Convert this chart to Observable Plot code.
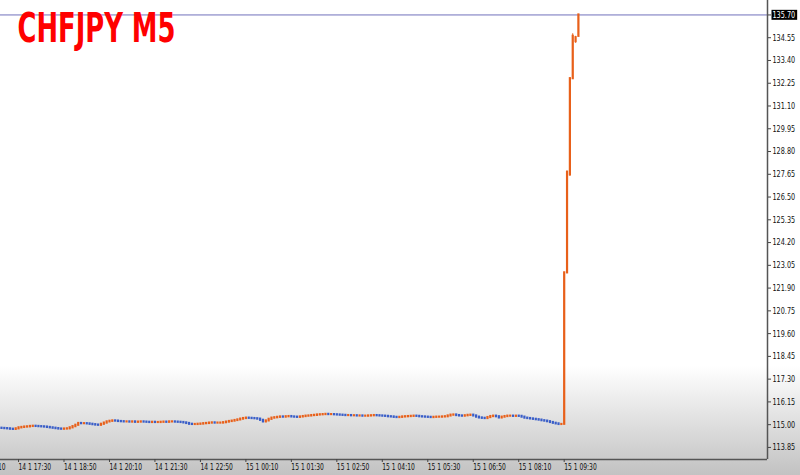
<!DOCTYPE html>
<html>
<head>
<meta charset="utf-8">
<script src="https://cdn.jsdelivr.net/npm/d3@7"></script>
<script src="https://cdn.jsdelivr.net/npm/@observablehq/plot@0.6"></script>
<style>
  html, body { margin: 0; padding: 0; }
  body {
    width: 800px; height: 475px; overflow: hidden;
    background: linear-gradient(to bottom, #ffffff 0%, #ffffff 77%, #c2c2c2 100%);
  }
  #chart svg { display: block; }
</style>
</head>
<body>
<div id="chart"></div>
<script>
// ---- data ----
const title = "CHFJPY M5";
const firstBarTime = "2015-01-14T17:00:00Z";   // first visible M5 bar
const barMinutes = 5;
const firstOpen = 114.82;
// closes of the M5 bars before the spike (14 1 17:00 .. 15 1 09:25)
const closes = [
  114.81,114.80,114.79,114.77,114.76,114.79,114.84,114.86,114.88,114.89,
  114.91,114.92,114.91,114.90,114.89,114.88,114.86,114.84,114.82,114.80,
  114.78,114.77,114.78,114.79,114.84,114.90,114.97,115.06,115.05,115.05,
  115.04,115.02,115.00,114.98,114.97,115.02,115.08,115.14,115.17,115.19,
  115.18,115.16,115.15,115.14,115.14,115.13,115.14,115.12,115.13,115.14,
  115.13,115.12,115.11,115.12,115.11,115.11,115.12,115.13,115.12,115.14,
  115.14,115.13,115.12,115.11,115.09,115.06,115.02,115.01,115.01,115.02,
  115.03,115.05,115.06,115.08,115.09,115.08,115.08,115.08,115.10,115.13,
  115.16,115.18,115.21,115.24,115.28,115.31,115.33,115.32,115.31,115.30,
  115.28,115.22,115.14,115.19,115.27,115.33,115.35,115.37,115.39,115.38,
  115.40,115.41,115.39,115.38,115.37,115.39,115.41,115.43,115.44,115.46,
  115.47,115.49,115.50,115.51,115.52,115.51,115.51,115.50,115.49,115.48,
  115.47,115.46,115.46,115.45,115.45,115.44,115.44,115.43,115.43,115.44,
  115.45,115.46,115.45,115.44,115.43,115.42,115.40,115.39,115.37,115.36,
  115.37,115.39,115.40,115.41,115.42,115.43,115.42,115.40,115.39,115.38,
  115.37,115.36,115.37,115.38,115.38,115.39,115.40,115.44,115.48,115.49,
  115.46,115.44,115.43,115.45,115.47,115.48,115.44,115.38,115.34,115.32,
  115.31,115.36,115.41,115.43,115.40,115.34,115.38,115.41,115.43,115.43,
  115.42,115.43,115.42,115.38,115.33,115.31,115.29,115.27,115.25,115.23,
  115.20,115.18,115.15,115.11,115.07,115.04,115.01,115.01
];
// the spike bars from 15 1 09:30
const spikeOpen  = [115.02, 122.67, 127.62, 132.48, 134.35, 134.62];
const spikeHigh  = [122.67, 127.76, 132.48, 134.75, 134.62, 135.70];
const spikeLow   = [115.01, 122.67, 127.55, 132.48, 134.27, 134.62];
const spikeClose = [122.67, 127.76, 132.48, 134.62, 134.55, 135.70];
const lastPrice = 135.70;
const yTicks = [113.85,115.00,116.15,117.30,118.45,119.60,120.75,121.90,123.05,124.20,
                125.35,126.50,127.65,128.80,129.95,131.10,132.25,133.40,134.55,135.70];
const xTicks = ["2015-01-14T16:10Z","2015-01-14T17:30Z","2015-01-14T18:50Z","2015-01-14T20:10Z",
                "2015-01-14T21:30Z","2015-01-14T22:50Z","2015-01-15T00:10Z","2015-01-15T01:30Z",
                "2015-01-15T02:50Z","2015-01-15T04:10Z","2015-01-15T05:30Z","2015-01-15T06:50Z",
                "2015-01-15T08:10Z","2015-01-15T09:30Z"];
const xDomain = ["2015-01-14T16:58:17Z", "2015-01-15T15:27:40Z"];
const yDomain = [113.24, 136.43];

// ---- build candle table ----
const t0 = new Date(firstBarTime).getTime();
const bars = [];
closes.forEach((c, i) => {
  const o = i === 0 ? firstOpen : closes[i - 1];
  bars.push({t: new Date(t0 + i * barMinutes * 60000), o, h: Math.max(o, c), l: Math.min(o, c), c});
});
spikeClose.forEach((c, j) => {
  const i = closes.length + j;
  bars.push({t: new Date(t0 + i * barMinutes * 60000), o: spikeOpen[j], h: spikeHigh[j], l: spikeLow[j], c});
});
const UP = "#e8601a", DOWN = "#3a5ec8";
const col = d => d.c >= d.o ? UP : DOWN;
const FONT = "'Liberation Sans Narrow', 'Arial Narrow', 'DejaVu Sans Condensed', sans-serif";
const fmtX = d3.utcFormat("%-d %-m %H:%M");

const chart = Plot.plot({
  width: 800, height: 475,
  marginLeft: 0, marginRight: 33, marginTop: 0, marginBottom: 16,
  style: {background: "transparent", fontFamily: FONT},
  x: {type: "utc", domain: xDomain.map(s => new Date(s)), axis: null},
  y: {domain: yDomain, axis: null},
  marks: [
    Plot.ruleY([lastPrice], {stroke: "#7070bb", strokeWidth: 1}),
    Plot.ruleX(bars, {x: "t", y1: "l", y2: "h", stroke: col, strokeWidth: 1}),
    Plot.ruleX(bars, {x: "t", y1: "o", y2: "c", stroke: col, strokeWidth: 2.2, strokeLinecap: "square"}),
    Plot.ruleY([yDomain[0]], {stroke: "#555", strokeWidth: 1.5}),
    Plot.ruleX([new Date(xDomain[1])], {stroke: "#555", strokeWidth: 1.5}),
    Plot.axisY(yTicks, {anchor: "right", label: null, tickSize: 3, tickPadding: 2, fontSize: 9,
      fill: "#111", stroke: "#444", tickFormat: d => d.toFixed(2), fontFamily: FONT}),
    Plot.axisX(xTicks.map(s => new Date(s)), {anchor: "bottom", label: null, tickSize: 3, tickPadding: 1,
      fontSize: 9, fill: "#111", stroke: "#444", textAnchor: "start",
      tickFormat: fmtX, fontFamily: FONT}),
    Plot.text([title], {text: d => d, frameAnchor: "top-left", dx: 17, dy: 13, lineAnchor: "top",
      textAnchor: "start", fontSize: 40, fontWeight: "bold", fill: "#ff0000", fontFamily: FONT})
  ]
});
document.getElementById("chart").appendChild(chart);

// narrow the texts to the widths seen in the picture, and box the current price label
const yLabels = new Set(yTicks.map(d => d.toFixed(2)));
const xLabels = new Set(xTicks.map(s => fmtX(new Date(s))));
chart.querySelectorAll("text").forEach(el => {
  const s = el.textContent;
  let target = null;
  if (s === title) target = 158;
  else if (yLabels.has(s)) target = el.getComputedTextLength() * 0.8;
  else if (xLabels.has(s)) target = el.getComputedTextLength() * 0.74;
  if (target) {
    el.setAttribute("textLength", target);
    el.setAttribute("lengthAdjust", "spacingAndGlyphs");
  }
  if (s === lastPrice.toFixed(2)) {
    const b = el.getBBox();
    const r = document.createElementNS("http://www.w3.org/2000/svg", "rect");
    r.setAttribute("x", b.x - 1); r.setAttribute("y", b.y);
    r.setAttribute("width", b.width + 3); r.setAttribute("height", b.height);
    r.setAttribute("fill", "#000");
    if (el.getAttribute("transform")) r.setAttribute("transform", el.getAttribute("transform"));
    el.parentNode.insertBefore(r, el);
    el.setAttribute("fill", "#fff");
  }
});
</script>
</body>
</html>
